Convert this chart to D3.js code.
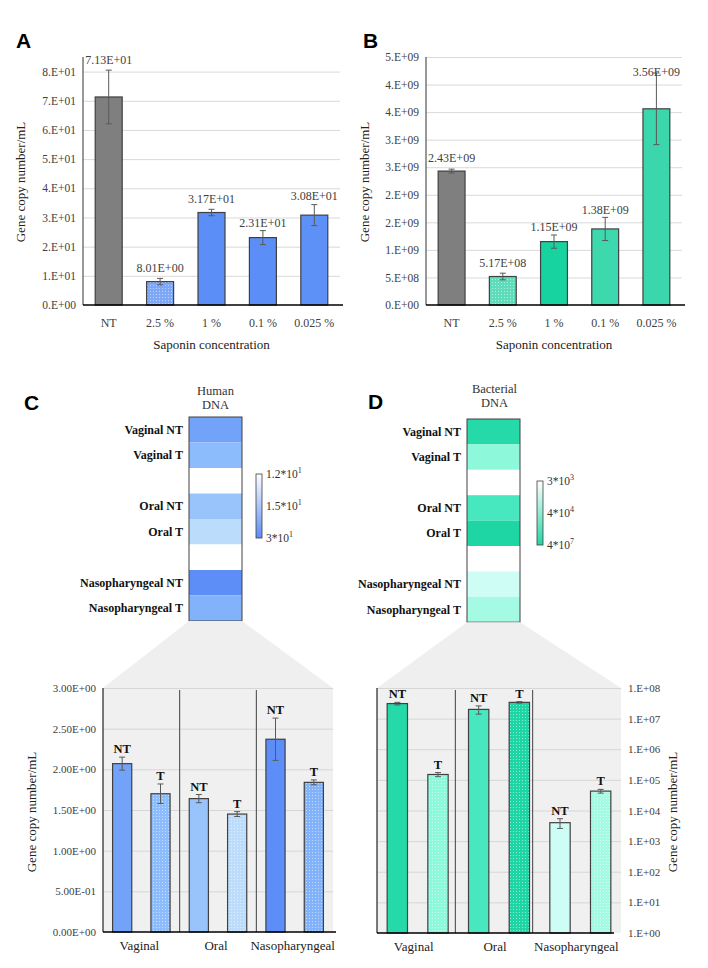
<!DOCTYPE html>
<html lang="en">
<head>
  <meta charset="UTF-8">
  <title>Saponin treatment - gene copy numbers</title>
  <script src="https://d3js.org/d3.v7.min.js"></script>
  <style>
    body { margin: 0; background: #fff; }
    svg text { font-family: "Liberation Serif", "Times New Roman", Times, serif; }
    svg text.letter { font-family: "Liberation Sans", Arial, sans-serif; font-weight: bold; font-size: 21px; fill: #000; }
  </style>
</head>
<body>
  <svg id="fig" width="708" height="968"></svg>

  <script>
    // panels A / B : saponin concentration
    const concCats = ["NT", "2.5 %", "1 %", "0.1 %", "0.025 %"];

    const humanConc = [71.3, 8.01, 31.7, 23.1, 30.8];
    const humanConcErr = [9.2, 1.1, 1.1, 2.4, 3.6];
    const humanConcLabels = ["7.13E+01", "8.01E+00", "3.17E+01", "2.31E+01", "3.08E+01"];
    const humanConcTicks = [0, 10, 20, 30, 40, 50, 60, 70, 80];
    const humanConcTickLabels = ["0.E+00", "1.E+01", "2.E+01", "3.E+01", "4.E+01", "5.E+01", "6.E+01", "7.E+01", "8.E+01"];

    const bactConc = [2.43e9, 5.17e8, 1.15e9, 1.38e9, 3.56e9];
    const bactConcErr = [0.035e9, 0.06e9, 0.12e9, 0.21e9, 0.65e9];
    const bactConcLabels = ["2.43E+09", "5.17E+08", "1.15E+09", "1.38E+09", "3.56E+09"];
    const bactConcTicks = [0, 5e8, 1e9, 1.5e9, 2e9, 2.5e9, 3e9, 3.5e9, 4e9, 4.5e9];
    const bactConcTickLabels = ["0.E+00", "5.E+08", "1.E+09", "2.E+09", "2.E+09", "3.E+09", "3.E+09", "4.E+09", "4.E+09", "5.E+09"];

    // panels C / D : sampling sites
    const sites = ["Vaginal", "Oral", "Nasopharyngeal"];
    const samples = ["Vaginal NT", "Vaginal T", "Oral NT", "Oral T", "Nasopharyngeal NT", "Nasopharyngeal T"];

    const humanSite = [2.07, 1.70, 1.64, 1.45, 2.37, 1.84];
    const humanSiteErr = [0.08, 0.12, 0.05, 0.03, 0.26, 0.03];
    const humanSiteTicks = [0, 0.5, 1, 1.5, 2, 2.5, 3];
    const humanSiteTickLabels = ["0.00E+00", "5.00E-01", "1.00E+00", "1.50E+00", "2.00E+00", "2.50E+00", "3.00E+00"];
    const humanLegend = [["1.2*10", "1"], ["1.5*10", "1"], ["3*10", "1"]];

    const bactSite = [3.1e7, 1.5e5, 2.0e7, 3.4e7, 4.0e3, 4.3e4];
    const bactSiteErr = [0.3e7, 0.23e5, 0.6e7, 0.2e7, 1.4e3, 0.6e4];
    const bactSiteTicks = [1, 1e1, 1e2, 1e3, 1e4, 1e5, 1e6, 1e7, 1e8];
    const bactSiteTickLabels = ["1.E+00", "1.E+01", "1.E+02", "1.E+03", "1.E+04", "1.E+05", "1.E+06", "1.E+07", "1.E+08"];
    const bactLegend = [["3*10", "3"], ["4*10", "4"], ["4*10", "7"]];

    const fig = d3.select("#fig");
    const defs = fig.append("defs");
    let patId = 0;

    // small white-dot texture used for the treated bars
    function dotted(color) {
      const id = "dots" + (patId++);
      const p = defs.append("pattern").attr("id", id)
        .attr("width", 3).attr("height", 3).attr("patternUnits", "userSpaceOnUse");
      p.append("rect").attr("width", 3).attr("height", 3).attr("fill", color);
      p.append("rect").attr("width", 1).attr("height", 1).attr("fill", "#fff").attr("opacity", 0.5);
      return `url(#${id})`;
    }

    function styleAxis(a, size) {
      a.select(".domain").remove();
      a.attr("font-family", null).attr("font-size", null);
      a.selectAll("text").style("font-size", size + "px").attr("fill", "#404040");
    }

    function errorBars(g, data, xc, y, cap) {
      data.forEach(d => {
        const yt = y(d.v + d.e), yb = y(d.v - d.e);
        g.append("line").attr("x1", xc(d)).attr("x2", xc(d)).attr("y1", yt).attr("y2", yb)
          .attr("stroke", "#595959").attr("stroke-width", 1);
        [yt, yb].forEach(yy => g.append("line")
          .attr("x1", xc(d) - cap).attr("x2", xc(d) + cap).attr("y1", yy).attr("y2", yy)
          .attr("stroke", "#595959").attr("stroke-width", 1));
      });
    }

    function yTitle(x, y) {
      fig.append("text").attr("transform", `translate(${x},${y}) rotate(-90)`)
        .attr("text-anchor", "middle").style("font-size", "13px").attr("fill", "#222")
        .text("Gene copy number/mL");
    }

    function concChart(o) {
      const g = fig.append("g");
      const x = d3.scaleBand().domain(concCats).range([o.left, o.right]).paddingInner(0.475).paddingOuter(0.2375);
      const y = d3.scaleLinear().domain([0, o.max]).range([o.y0, o.top]);

      g.append("g").attr("transform", `translate(${o.left},0)`)
        .call(d3.axisLeft(y).tickValues(o.ticks.slice(1)).tickSize(-(o.right - o.left)).tickFormat(""))
        .call(a => { a.select(".domain").remove(); a.selectAll("line").attr("stroke", "#d9d9d9"); });
      g.append("g").attr("transform", `translate(${o.left},0)`)
        .call(d3.axisLeft(y).tickValues(o.ticks).tickSize(0).tickPadding(7).tickFormat((d, i) => o.tickLabels[i]))
        .call(a => styleAxis(a, 11.5));
      g.append("line").attr("x1", o.left).attr("x2", o.left).attr("y1", o.top).attr("y2", o.y0)
        .attr("stroke", "#333").attr("stroke-width", 1);

      const data = concCats.map((c, i) => ({ c, i, v: o.values[i], e: o.errs[i], lab: o.labels[i] }));
      g.selectAll("rect.bar").data(data).enter().append("rect").attr("class", "bar")
        .attr("x", d => x(d.c)).attr("y", d => y(d.v))
        .attr("width", x.bandwidth()).attr("height", d => o.y0 - y(d.v))
        .attr("fill", d => d.i === 1 ? dotted(o.colors[d.i]) : o.colors[d.i])
        .attr("stroke", "#404040").attr("stroke-width", 1.2);

      g.append("line").attr("x1", o.left).attr("x2", o.right + 3).attr("y1", o.y0).attr("y2", o.y0)
        .attr("stroke", "#000").attr("stroke-width", 1.6);

      const xc = d => x(d.c) + x.bandwidth() / 2;
      errorBars(g, data, xc, y, 3);

      g.selectAll("text.val").data(data).enter().append("text").attr("class", "val")
        .attr("x", xc).attr("y", (d, i) => y(d.v + d.e) + o.labelOff[i])
        .attr("text-anchor", "middle").style("font-size", "12px").attr("fill", "#404040")
        .text(d => d.lab);

      g.append("g").attr("transform", `translate(0,${o.y0})`)
        .call(d3.axisBottom(x).tickSize(0).tickPadding(13))
        .call(a => styleAxis(a, 12));

      g.append("text").attr("x", (o.left + o.right) / 2).attr("y", o.y0 + 44)
        .attr("text-anchor", "middle").style("font-size", "13px").attr("fill", "#222")
        .text("Saponin concentration");
    }

    function heatmap(o) {
      const g = fig.append("g");
      const rows = [];
      samples.forEach((s, i) => {
        rows.push({ name: s, v: o.values[i] });
        if (i % 2 === 1 && i < samples.length - 1) rows.push({ name: "", v: null });
      });
      const y = d3.scaleBand().domain(d3.range(rows.length)).range([o.top, o.top + o.rowH * rows.length]);

      g.selectAll("rect.cell").data(rows).enter().append("rect").attr("class", "cell")
        .attr("x", o.x).attr("y", (d, i) => y(i)).attr("width", o.w).attr("height", y.bandwidth())
        .attr("fill", d => d.v === null ? "#fff" : o.color(d.v));
      g.append("rect").attr("x", o.x).attr("y", o.top).attr("width", o.w).attr("height", o.rowH * rows.length)
        .attr("fill", "none").attr("stroke", "#404040").attr("stroke-width", 1);

      g.selectAll("text.row").data(rows).enter().append("text").attr("class", "row")
        .attr("x", o.x - 6).attr("y", (d, i) => y(i) + y.bandwidth() / 2 + 4)
        .attr("text-anchor", "end").style("font-size", "12px").style("font-weight", "bold").attr("fill", "#111")
        .text(d => d.name);

      o.title.forEach((t, i) => g.append("text").attr("x", o.x + o.w / 2 + o.titleDx).attr("y", o.titleY + i * 14)
        .attr("text-anchor", "middle").style("font-size", "12.5px").attr("fill", "#333").text(t));

      // colour bar legend
      const gid = "grad" + (patId++);
      const grad = defs.append("linearGradient").attr("id", gid).attr("x1", 0).attr("x2", 0).attr("y1", 0).attr("y2", 1);
      grad.append("stop").attr("offset", 0).attr("stop-color", "#fff");
      grad.append("stop").attr("offset", 1).attr("stop-color", o.legendColor);
      g.append("rect").attr("x", o.lx).attr("y", o.ly).attr("width", 6).attr("height", o.lh)
        .attr("fill", `url(#${gid})`).attr("stroke", "#404040").attr("stroke-width", 0.8);
      const ly = d3.scalePoint().domain(d3.range(o.legend.length)).range([o.ly + 4, o.ly + o.lh + 4]);
      o.legend.forEach((l, i) => {
        const t = g.append("text").attr("x", o.lx + 10).attr("y", ly(i))
          .style("font-size", "11.5px").attr("fill", "#333").text(l[0]);
        t.append("tspan").attr("dy", -5).style("font-size", "8px").text(l[1]);
      });
      return { x: o.x, w: o.w, bottom: o.top + o.rowH * rows.length };
    }

    function siteChart(o) {
      const g = fig.append("g");
      const h = o.heat;
      g.append("path")
        .attr("d", d3.line()([[h.x, h.bottom], [h.x + h.w, h.bottom], [o.right, o.top], [o.left, o.top]]) + "Z")
        .attr("fill", "#efefef");
      g.append("rect").attr("x", o.left).attr("y", o.top).attr("width", o.right - o.left).attr("height", o.y0 - o.top)
        .attr("fill", "#f0f0f0");

      const x = d3.scaleBand().domain(d3.range(samples.length)).range([o.left, o.right]).paddingInner(0.5).paddingOuter(0.25);
      const y = o.y;

      const tickSide = o.right_axis ? d3.axisRight : d3.axisLeft;
      g.append("g").attr("transform", `translate(${o.left},0)`)
        .call(d3.axisLeft(y).tickValues(o.ticks.slice(1)).tickSize(-(o.right - o.left)).tickFormat(""))
        .call(a => { a.select(".domain").remove(); a.selectAll("line").attr("stroke", "#d6d6d6"); });
      g.append("g").attr("transform", `translate(${o.right_axis ? o.right : o.left},0)`)
        .call(tickSide(y).tickValues(o.ticks).tickSize(0).tickPadding(7).tickFormat((d, i) => o.tickLabels[i]))
        .call(a => styleAxis(a, 11));

      // site separators
      const step = x.step();
      [2, 4].forEach((k, j) => {
        const sx = o.left + k * step + o.sepShift[j];
        g.append("line").attr("x1", sx).attr("x2", sx).attr("y1", o.top + 2).attr("y2", o.y0)
          .attr("stroke", "#404040").attr("stroke-width", 1);
      });
      g.append("line").attr("x1", o.left).attr("x2", o.left).attr("y1", o.top).attr("y2", o.y0)
        .attr("stroke", "#222").attr("stroke-width", 1.2);

      const data = samples.map((s, i) => ({ c: i, i, v: o.values[i], e: o.errs[i], lab: s.split(" ").pop() }));
      g.selectAll("rect.bar").data(data).enter().append("rect").attr("class", "bar")
        .attr("x", d => x(d.c)).attr("y", d => y(d.v))
        .attr("width", x.bandwidth()).attr("height", d => o.y0 - y(d.v))
        .attr("fill", d => d.i % 2 === 1 ? dotted(o.color(d.v)) : o.color(d.v))
        .attr("stroke", "#404040").attr("stroke-width", 1.2);

      g.append("line").attr("x1", o.left).attr("x2", o.axisEnd).attr("y1", o.y0).attr("y2", o.y0)
        .attr("stroke", "#000").attr("stroke-width", 1.6);

      const xc = d => x(d.c) + x.bandwidth() / 2;
      errorBars(g, data, xc, y, 3);

      g.selectAll("text.lab").data(data).enter().append("text").attr("class", "lab")
        .attr("x", xc).attr("y", d => y(d.v + d.e) - 4)
        .attr("text-anchor", "middle").style("font-size", "12.5px").style("font-weight", "bold").attr("fill", "#111")
        .text(d => d.lab);

      sites.forEach((s, i) => g.append("text")
        .attr("x", o.left + (2 * i + 1) * step + o.siteDx).attr("y", o.y0 + 18)
        .attr("text-anchor", "middle").style("font-size", "13px").attr("fill", "#222").text(s));
    }

    // ---- A ----
    fig.append("text").attr("class", "letter").attr("x", 16).attr("y", 48).text("A");
    concChart({
      left: 83, right: 340, top: 57, y0: 305, max: 85,
      ticks: humanConcTicks, tickLabels: humanConcTickLabels,
      values: humanConc, errs: humanConcErr, labels: humanConcLabels,
      labelOff: [-6, -6, -6, -4, -5],
      colors: ["#7f7f7f", "#7ea8f6", "#5b8ff7", "#5b8ff7", "#5e91f8"]
    });
    yTitle(25, 182);

    // ---- B ----
    fig.append("text").attr("class", "letter").attr("x", 363).attr("y", 48).text("B");
    concChart({
      left: 426, right: 682, top: 57, y0: 305, max: 4.5e9,
      ticks: bactConcTicks, tickLabels: bactConcTickLabels,
      values: bactConc, errs: bactConcErr, labels: bactConcLabels,
      labelOff: [-7, -6, -4, -3, 3],
      colors: ["#7f7f7f", "#5fdcba", "#17d3a0", "#3dd8ae", "#3cd6ac"]
    });
    yTitle(369, 182);

    // ---- C ----
    const humanColor = d3.scaleLinear().domain([1.2, 1.45, 1.7, 2.4])
      .range(["#ffffff", "#bcdcfc", "#8cbcfb", "#5b8cf8"]);
    fig.append("text").attr("class", "letter").attr("x", 24).attr("y", 410).text("C");
    const heatC = heatmap({
      x: 189, w: 53, top: 417, rowH: 25.5, values: humanSite, color: humanColor,
      title: ["Human", "DNA"], titleY: 395, titleDx: 0,
      lx: 256, ly: 474, lh: 64, legend: humanLegend, legendColor: "#5b8cf8"
    });
    siteChart({
      heat: heatC, left: 103, right: 333, axisEnd: 336, top: 688, y0: 932,
      y: d3.scaleLinear().domain([0, 3]).range([932, 688]),
      ticks: humanSiteTicks, tickLabels: humanSiteTickLabels,
      values: humanSite, errs: humanSiteErr, color: humanColor,
      sepShift: [0, 0], siteDx: -2, right_axis: false
    });
    yTitle(36, 812);

    // ---- D ----
    const bactColor = d3.scaleLog().domain([3e3, 1.5e5, 2e7, 3.4e7])
      .range(["#d2fdf7", "#8ef8da", "#47e8bf", "#1ed6a4"]);
    fig.append("text").attr("class", "letter").attr("x", 368).attr("y", 409).text("D");
    const heatD = heatmap({
      x: 467, w: 53, top: 419, rowH: 25.4, values: bactSite, color: bactColor,
      title: ["Bacterial", "DNA"], titleY: 393, titleDx: 1,
      lx: 537, ly: 481, lh: 64, legend: bactLegend, legendColor: "#22d6a6"
    });
    siteChart({
      heat: heatD, left: 377, right: 621, axisEnd: 614, top: 688, y0: 933,
      y: d3.scaleLog().domain([1, 1e8]).range([933, 688]),
      ticks: bactSiteTicks, tickLabels: bactSiteTickLabels,
      values: bactSite, errs: bactSiteErr, color: bactColor,
      sepShift: [-3, -7], siteDx: -4, right_axis: true
    });
    yTitle(677, 812);
  </script>
</body>
</html>
